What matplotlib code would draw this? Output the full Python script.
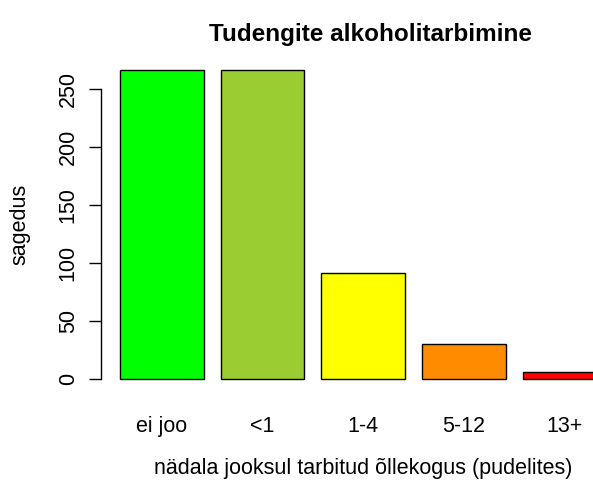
import matplotlib
matplotlib.use("Agg")
import matplotlib.pyplot as plt

plt.rcParams['font.family'] = ['Liberation Sans', 'DejaVu Sans']

categories = ["ei joo", "<1", "1-4", "5-12", "13+"]
counts = [266, 266, 91, 30, 6]
colors = ["#00FF00", "#9ACD32", "#FFFF00", "#FF8C00", "#FF0000"]

# R barplot positions: width 1, space 0.2
pos = [0.7 + 1.2 * i for i in range(len(counts))]

fs = 15.5

fig = plt.figure(figsize=(5.93, 4.83), dpi=100)
ax = fig.add_axes([0.1695, 0.190, 0.886, 0.690])
ax.bar(pos, counts, width=1.0, color=colors, edgecolor="black", linewidth=1.0)

ax.set_xlim(-0.032, 6.232)
ax.set_ylim(-10.64, 276.64)

for s in ["top", "right", "bottom"]:
    ax.spines[s].set_visible(False)
ax.spines["left"].set_bounds(0, 250)
ax.spines["left"].set_linewidth(1.0)

ax.set_yticks([0, 50, 100, 150, 200, 250])
ax.tick_params(axis="y", length=8.6, width=1.0, pad=7, labelsize=fs)
for lab in ax.get_yticklabels():
    lab.set_rotation(90)
    lab.set_va("center")

ax.set_xticks(pos)
ax.set_xticklabels(categories)
ax.tick_params(axis="x", length=0, pad=0, labelsize=fs)
for lab in ax.get_xticklabels():
    lab.set_y(-0.107)
    lab.set_va("center")

ax.text(0.513, 1.069, "Tudengite alkoholitarbimine", transform=ax.transAxes,
        ha="center", va="center", fontsize=17.5, fontweight="bold")
ax.text(0.5, -0.233, "nädala jooksul tarbitud õllekogus (pudelites)",
        transform=ax.transAxes, ha="center", va="center", fontsize=fs)
ax.text(-0.154, 0.5, "sagedus", transform=ax.transAxes, rotation=90,
        ha="center", va="center", fontsize=fs)

fig.savefig("out.png", dpi=100)
